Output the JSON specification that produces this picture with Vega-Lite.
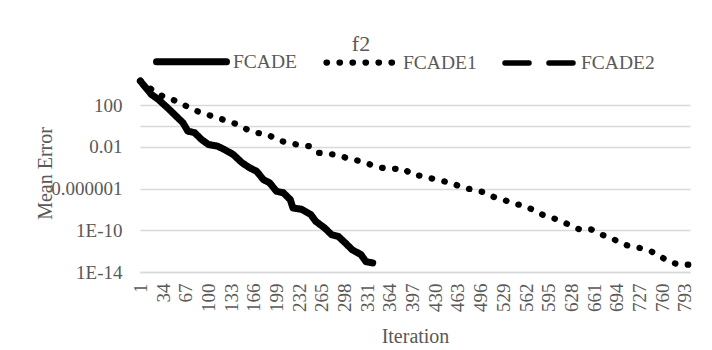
{
  "$schema": "https://vega.github.io/schema/vega-lite/v6.json",
  "autosize": {"type": "none"},
  "padding": {"left": 140, "top": 74, "right": 22, "bottom": 78},
  "width": 550,
  "height": 198,
  "background": "white",
  "config": {
    "font": "Liberation Serif",
    "view": {"stroke": null},
    "axis": {"labelColor": "#595959", "titleColor": "#595959", "labelFont": "Liberation Serif", "titleFont": "Liberation Serif", "titleFontWeight": "normal"},
    "legend": {"labelFont": "Liberation Serif", "labelColor": "#595959"}
  },
  "title": {"text": "f2", "font": "Liberation Serif", "fontSize": 22, "fontWeight": "normal", "color": "#595959", "anchor": "middle", "dx": -54, "offset": -33},
  "data": {"values": [
    {"s": "FCADE", "it": 1, "v": 2.1e4},
    {"s": "FCADE", "it": 17, "v": 1.1e3},
    {"s": "FCADE", "it": 27, "v": 3.7e2},
    {"s": "FCADE", "it": 43, "v": 40},
    {"s": "FCADE", "it": 53, "v": 9.1},
    {"s": "FCADE", "it": 63, "v": 2.1},
    {"s": "FCADE", "it": 70, "v": 0.33},
    {"s": "FCADE", "it": 80, "v": 0.23},
    {"s": "FCADE", "it": 90, "v": 0.052},
    {"s": "FCADE", "it": 100, "v": 0.017},
    {"s": "FCADE", "it": 113, "v": 0.012},
    {"s": "FCADE", "it": 123, "v": 0.0058},
    {"s": "FCADE", "it": 136, "v": 0.0019},
    {"s": "FCADE", "it": 149, "v": 3.0e-4},
    {"s": "FCADE", "it": 160, "v": 1.0e-4},
    {"s": "FCADE", "it": 170, "v": 4.7e-5},
    {"s": "FCADE", "it": 180, "v": 7.4e-6},
    {"s": "FCADE", "it": 189, "v": 3.6e-6},
    {"s": "FCADE", "it": 199, "v": 5.6e-7},
    {"s": "FCADE", "it": 209, "v": 4.0e-7},
    {"s": "FCADE", "it": 219, "v": 8.9e-8},
    {"s": "FCADE", "it": 223, "v": 1.4e-8},
    {"s": "FCADE", "it": 236, "v": 1.0e-8},
    {"s": "FCADE", "it": 249, "v": 3.2e-9},
    {"s": "FCADE", "it": 256, "v": 7.4e-10},
    {"s": "FCADE", "it": 269, "v": 1.7e-10},
    {"s": "FCADE", "it": 279, "v": 3.9e-11},
    {"s": "FCADE", "it": 289, "v": 2.6e-11},
    {"s": "FCADE", "it": 299, "v": 6.2e-12},
    {"s": "FCADE", "it": 309, "v": 1.4e-12},
    {"s": "FCADE", "it": 322, "v": 4.6e-13},
    {"s": "FCADE", "it": 329, "v": 1.0e-13},
    {"s": "FCADE", "it": 339, "v": 7.4e-14},
    {"s": "FCADE1", "it": 1, "v": 2.1e4},
    {"s": "FCADE1", "it": 27, "v": 1.1e3},
    {"s": "FCADE1", "it": 40, "v": 5.4e2},
    {"s": "FCADE1", "it": 53, "v": 2.5e2},
    {"s": "FCADE1", "it": 68, "v": 83},
    {"s": "FCADE1", "it": 83, "v": 28},
    {"s": "FCADE1", "it": 98, "v": 13},
    {"s": "FCADE1", "it": 113, "v": 6.3},
    {"s": "FCADE1", "it": 128, "v": 3.0},
    {"s": "FCADE1", "it": 143, "v": 1.4},
    {"s": "FCADE1", "it": 156, "v": 0.48},
    {"s": "FCADE1", "it": 170, "v": 0.23},
    {"s": "FCADE1", "it": 186, "v": 0.16},
    {"s": "FCADE1", "it": 199, "v": 0.052},
    {"s": "FCADE1", "it": 215, "v": 0.025},
    {"s": "FCADE1", "it": 229, "v": 0.017},
    {"s": "FCADE1", "it": 246, "v": 0.012},
    {"s": "FCADE1", "it": 259, "v": 0.0028},
    {"s": "FCADE1", "it": 274, "v": 0.0023},
    {"s": "FCADE1", "it": 290, "v": 0.0015},
    {"s": "FCADE1", "it": 305, "v": 7.2e-4},
    {"s": "FCADE1", "it": 321, "v": 4.3e-4},
    {"s": "FCADE1", "it": 335, "v": 2.1e-4},
    {"s": "FCADE1", "it": 352, "v": 1.0e-4},
    {"s": "FCADE1", "it": 367, "v": 7.9e-5},
    {"s": "FCADE1", "it": 385, "v": 7.9e-5},
    {"s": "FCADE1", "it": 395, "v": 2.3e-5},
    {"s": "FCADE1", "it": 412, "v": 1.6e-5},
    {"s": "FCADE1", "it": 425, "v": 9.3e-6},
    {"s": "FCADE1", "it": 442, "v": 5.1e-6},
    {"s": "FCADE1", "it": 456, "v": 3.2e-6},
    {"s": "FCADE1", "it": 469, "v": 1.2e-6},
    {"s": "FCADE1", "it": 486, "v": 8.1e-7},
    {"s": "FCADE1", "it": 500, "v": 4.5e-7},
    {"s": "FCADE1", "it": 515, "v": 1.6e-7},
    {"s": "FCADE1", "it": 529, "v": 8.9e-8},
    {"s": "FCADE1", "it": 543, "v": 3.7e-8},
    {"s": "FCADE1", "it": 558, "v": 2.4e-8},
    {"s": "FCADE1", "it": 571, "v": 1.0e-8},
    {"s": "FCADE1", "it": 586, "v": 3.2e-9},
    {"s": "FCADE1", "it": 601, "v": 1.5e-9},
    {"s": "FCADE1", "it": 614, "v": 7.4e-10},
    {"s": "FCADE1", "it": 627, "v": 2.8e-10},
    {"s": "FCADE1", "it": 640, "v": 1.2e-10},
    {"s": "FCADE1", "it": 657, "v": 1.2e-10},
    {"s": "FCADE1", "it": 671, "v": 4.0e-11},
    {"s": "FCADE1", "it": 686, "v": 1.9e-11},
    {"s": "FCADE1", "it": 699, "v": 6.2e-12},
    {"s": "FCADE1", "it": 713, "v": 2.9e-12},
    {"s": "FCADE1", "it": 728, "v": 2.0e-12},
    {"s": "FCADE1", "it": 744, "v": 9.5e-13},
    {"s": "FCADE1", "it": 757, "v": 3.2e-13},
    {"s": "FCADE1", "it": 770, "v": 1.0e-13},
    {"s": "FCADE1", "it": 785, "v": 5.0e-14},
    {"s": "FCADE1", "it": 800, "v": 5.0e-14}
  ]},
  "mark": {"type": "line", "color": "black", "strokeCap": "round", "strokeJoin": "round"},
  "encoding": {
    "x": {
      "field": "it", "type": "quantitative",
      "scale": {"domain": [0.5, 800.5], "nice": false, "zero": false},
      "axis": {
        "title": "Iteration", "titleFontSize": 20, "titleY": 64, "titleBaseline": "middle",
        "values": [1, 34, 67, 100, 133, 166, 199, 232, 265, 298, 331, 364, 397, 430, 463, 496, 529, 562, 595, 628, 661, 694, 727, 760, 793],
        "labelAngle": -90, "labelFontSize": 19, "labelPadding": 11, "labelOverlap": false, "labelFlush": false,
        "ticks": false, "grid": false, "domainColor": "#d9d9d9", "domainWidth": 1.5
      }
    },
    "y": {
      "field": "v", "type": "quantitative",
      "scale": {"type": "log", "domain": [1e-14, 1e5], "nice": false},
      "axis": {
        "title": "Mean Error", "titleFontSize": 20, "titleX": -95, "titleY": 99, "titleAngle": -90, "titleAlign": "center", "titleBaseline": "middle",
        "values": [1e-14, 1e-10, 1e-6, 0.01, 1, 100],
        "labelExpr": "datum.value < 1e-12 ? '1E-14' : datum.value < 1e-8 ? '1E-10' : datum.value < 1e-4 ? '0.000001' : datum.value < 0.1 ? '0.01' : datum.value < 10 ? '' : '100'",
        "labelFontSize": 19, "labelPadding": 18, "ticks": false, "domain": false,
        "gridColor": "#d9d9d9", "gridWidth": 1.5
      }
    },
    "strokeDash": {
      "field": "s", "type": "nominal",
      "scale": {"domain": ["FCADE", "FCADE1", "FCADE2"], "range": [[1, 0], [0.5, 12.5], [24, 20]]},
      "legend": {
        "title": null, "orient": "none", "legendX": 13, "legendY": -51, "direction": "horizontal",
        "symbolType": "stroke", "symbolSize": 4900, "symbolStrokeColor": "black",
        "labelFontSize": 19.5, "labelOffset": 3, "columnPadding": 17,
        "encode": {"symbols": {"update": {"strokeCap": {"value": "round"}}}}
      }
    },
    "strokeWidth": {
      "field": "s", "type": "nominal",
      "scale": {"domain": ["FCADE", "FCADE1", "FCADE2"], "range": [7, 5.5, 7]},
      "legend": null
    }
  }
}
